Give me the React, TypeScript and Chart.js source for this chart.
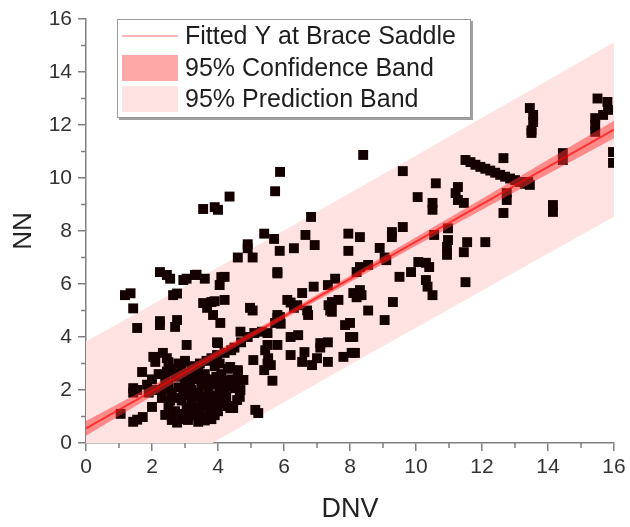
import React, { useEffect, useRef } from 'react';
import { Chart, registerables } from 'chart.js';

Chart.register(...registerables);

// ---- Data ----
const dnv = [
  1.05, 1.18, 1.35, 1.43, 1.55, 1.43, 1.55, 1.43, 1.55, 1.72, 1.7, 1.85, 2.0, 2.04, 2.1, 2.24, 2.45, 2.55, 2.24, 2.24,
  2.64, 2.76, 2.76, 2.7, 2.95, 3.05, 3.3, 3.6, 3.05, 2.45, 2.5, 3.67, 3.85, 4.07, 3.55, 4.1, 4.05, 4.2, 3.97, 4.0,
  3.97, 4.2, 3.9, 2.33, 1.43, 3.8, 3.35,
  3.55, 3.9, 4.0, 4.35, 5.88, 5.73, 6.82, 5.4, 5.7, 4.9, 4.9, 4.6, 5.05, 5.87, 6.3, 6.65, 6.93, 7.95, 7.95, 5.8, 6.9,
  2.4, 2.5, 2.6, 2.7, 2.8, 2.9, 3.0, 3.0, 3.1, 3.2, 3.2, 3.3, 3.3, 3.4, 3.4, 3.5, 3.5, 3.6, 3.6, 3.7, 3.7, 3.8, 3.8,
  3.9, 3.9, 4.0, 4.0, 4.1, 4.1, 4.2, 4.3, 4.3, 4.4, 2.6, 2.8, 3.0, 2.3, 2.5, 2.7, 2.9, 3.1, 3.4, 3.6, 2.2, 2.0, 1.9,
  2.6, 3.2, 3.8, 4.2, 4.4, 2.4, 2.6, 2.76, 3.09, 3.36, 3.55, 3.76, 3.9,
  2.45, 2.55, 2.75, 2.85, 2.95, 3.05, 3.15, 3.25, 3.35, 3.45, 3.55, 3.65, 3.75, 3.85, 3.95, 4.05, 4.15, 4.25, 4.35,
  2.35, 2.15, 3.45, 3.65, 4.05, 2.9, 3.0, 3.9, 4.1,
  4.37, 4.6, 4.66, 4.5, 4.66, 4.2, 4.37, 4.68, 4.58, 4.46, 4.77, 4.6, 4.68, 4.97, 5.05, 5.13, 5.22, 5.07, 5.43, 5.52,
  5.6, 5.65, 5.5, 5.5, 5.4, 4.9, 5.1, 5.33, 5.5, 5.73, 5.8, 5.88, 5.8, 5.9, 5.8, 4.5, 4.7,
  5.8, 6.1, 6.3, 6.55, 6.2, 6.4, 6.73, 6.7, 7.35, 7.45, 7.85, 8.0, 6.2, 6.43, 6.2, 6.62, 6.55, 6.85, 7.0, 7.1, 7.33,
  7.33, 7.8, 8.05, 7.1,
  7.33, 7.55, 8.1, 8.3, 8.35, 8.2, 7.45, 7.65, 7.4, 8.55, 8.15, 8.1, 8.0, 9.05, 9.3,
  8.3, 8.55, 9.1, 8.2, 9.5, 9.85, 10.07, 10.3, 10.4, 10.3, 10.35, 10.5, 11.5,
  8.4, 9.6, 10.6, 10.05, 10.5, 10.5, 11.27, 11.2, 11.27, 11.45,
  8.3, 9.27, 9.27, 9.6, 8.9, 9.05, 10.55, 10.97, 10.97, 10.94, 10.94, 11.55, 11.45, 12.1,
  11.5, 11.65, 11.8, 11.95, 12.1, 12.25, 12.4, 12.55, 12.7, 12.85, 13.0, 13.15, 13.3, 13.45, 13.4,
  12.65, 12.75, 12.75, 12.65, 14.15, 14.15, 14.45, 14.45,
  13.45, 13.55, 13.55, 13.5, 13.5,
  15.5, 15.8, 15.82, 15.67, 15.43, 15.43, 15.43, 15.97, 15.97,
];

const nn = [
  1.1, 5.58, 5.65, 5.08, 4.34, 2.07, 2.0, 0.8, 0.88, 0.98, 2.68, 2.2, 1.36, 3.25, 3.06, 6.45, 6.34, 6.2, 4.6, 4.45,
  5.58, 5.64, 4.64, 4.38, 6.15, 6.2, 6.34, 6.2, 3.7, 3.2, 3.05, 5.1, 4.83, 4.53, 5.28, 6.26, 5.96, 6.27, 3.8, 3.77,
  3.32, 5.4, 5.35, 3.4, 1.9, 5.32, 6.35,
  8.83, 8.9, 8.8, 9.3, 10.23, 9.5, 8.53, 7.9, 7.7, 7.5, 7.35, 7.0, 7.0, 7.25, 7.35, 7.85, 7.47, 7.9, 7.25, 6.45, 5.9,
  2.4, 2.2, 1.9, 2.5, 2.1, 1.6, 2.3, 1.8, 2.6, 2.0, 1.5, 2.4, 1.2, 2.8, 1.9, 2.2, 1.6, 2.6, 1.0, 2.0, 1.4, 2.4, 0.9,
  1.8, 2.9, 2.2, 1.2, 2.6, 1.6, 2.0, 2.8, 1.4, 2.4, 2.8, 3.0, 3.1, 1.7, 1.4, 1.2, 0.9, 1.0, 0.8, 0.85, 2.6, 2.4, 1.9,
  1.0, 2.9, 3.2, 3.4, 3.5, 1.06, 0.87, 0.77, 0.87, 1.06, 1.0, 1.13, 1.36,
  2.7, 1.6, 1.7, 2.6, 2.0, 1.35, 2.25, 1.75, 2.6, 1.35, 2.45, 1.75, 2.25, 1.55, 2.5, 1.9, 2.35, 1.75, 2.15,
  2.05, 2.0, 3.0, 3.1, 3.0, 2.8, 1.1, 1.05, 1.4,
  2.87, 2.68, 2.38, 2.07, 1.74, 1.43, 1.32, 2.0, 1.62, 1.32, 2.38, 2.75, 4.2, 5.1, 5.0, 1.25, 1.13, 3.13, 3.5, 3.2,
  2.94, 2.35, 3.7, 3.0, 2.75, 4.0, 4.15, 4.2, 4.15, 4.53, 4.72, 4.75, 4.83, 4.5, 3.7, 3.6, 3.8,
  6.4, 5.4, 5.1, 5.66, 5.3, 5.2, 4.83, 5.0, 5.2, 4.95, 4.45, 4.0, 4.0, 4.07, 3.32, 3.43, 3.06, 2.94, 3.2, 3.77, 3.8,
  3.06, 3.25, 3.4, 3.6,
  5.96, 6.2, 5.66, 5.77, 5.58, 5.5, 5.32, 5.4, 5.0, 5.0, 3.4, 4.0, 4.53, 4.64, 5.32,
  6.64, 6.72, 6.9, 6.45, 6.27, 6.45, 6.83, 6.8, 6.64, 6.15, 5.9, 5.58, 6.07,
  10.87, 10.26, 9.8, 9.28, 9.06, 8.8, 9.66, 9.43, 9.17, 9.06,
  7.77, 7.96, 7.77, 8.15, 7.36, 7.0, 7.85, 8.1, 7.66, 7.4, 7.1, 7.58, 7.2, 7.58,
  10.68, 10.6, 10.5, 10.42, 10.35, 10.28, 10.2, 10.12, 10.05, 9.98, 9.92, 9.85, 9.78, 9.74, 9.85,
  10.75, 9.43, 9.17, 8.68, 8.98, 8.72, 10.94, 10.68,
  12.64, 12.38, 12.11, 11.8, 11.7,
  13.0, 12.87, 12.57, 12.38, 12.26, 12.0, 11.74, 10.98, 10.57,
];

const bandX = [0, 2, 4, 6, 8, 10, 12, 14, 16];
const fitY = [0.55, 1.96, 3.37, 4.78, 6.19, 7.6, 9.01, 10.42, 11.83];
const confUpper = [0.83, 2.16, 3.5, 4.88, 6.31, 7.76, 9.22, 10.69, 12.16];
const confLower = [0.27, 1.76, 3.24, 4.68, 6.07, 7.44, 8.8, 10.15, 11.5];
const predUpper = [3.83, 5.22, 6.62, 8.02, 9.43, 10.85, 12.27, 13.69, 15.12];
const predLower = [-2.73, -1.3, 0.12, 1.54, 2.95, 4.35, 5.75, 7.15, 8.54];

const minorTicks = [1, 3, 5, 7, 9, 11, 13, 15];
const legendLabels = ['Fitted Y at Brace Saddle', '95% Confidence Band', '95% Prediction Band'];

const FONT = "'Liberation Sans', Arial, sans-serif";
const AXIS = '#808080';
const PRED_FILL = '#FFE3E3';
const CONF_FILL = 'rgba(255, 50, 50, 0.5)';
const FIT_LINE = 'rgba(255, 0, 0, 0.65)';

const minorTickPlugin = {
  id: 'minorTicks',
  afterDraw(chart: any) {
    const { ctx, chartArea } = chart;
    const xs = chart.scales.x;
    const ys = chart.scales.y;
    ctx.save();
    ctx.strokeStyle = AXIS;
    ctx.lineWidth = 1.5;
    ctx.beginPath();
    minorTicks.forEach((v) => {
      const px = xs.getPixelForValue(v);
      ctx.moveTo(px, chartArea.bottom);
      ctx.lineTo(px, chartArea.bottom + 5);
      const py = ys.getPixelForValue(v);
      ctx.moveTo(chartArea.left, py);
      ctx.lineTo(chartArea.left - 5, py);
    });
    ctx.stroke();
    ctx.restore();
  },
};

const legendPlugin = {
  id: 'insideLegend',
  afterDraw(chart: any) {
    const { ctx, chartArea } = chart;
    const bx = chartArea.left + 31;
    const by = chartArea.top;
    const bw = 354;
    const bh = 99;
    ctx.save();
    ctx.fillStyle = '#a0a0a0';
    ctx.fillRect(bx + 2, by + 2, bw, bh);
    ctx.fillStyle = '#ffffff';
    ctx.fillRect(bx, by, bw, bh);
    ctx.strokeStyle = '#9a9a9a';
    ctx.lineWidth = 1;
    ctx.strokeRect(bx + 0.5, by + 0.5, bw - 1, bh - 1);

    const sx = bx + 5;
    const sw = 56;
    const rows = [by + 17, by + 49, by + 80];
    ctx.strokeStyle = '#FF9C9C';
    ctx.lineWidth = 1.5;
    ctx.beginPath();
    ctx.moveTo(sx, rows[0]);
    ctx.lineTo(sx + sw, rows[0]);
    ctx.stroke();
    ctx.fillStyle = '#FFA8A8';
    ctx.fillRect(sx, rows[1] - 13, sw, 26);
    ctx.fillStyle = PRED_FILL;
    ctx.fillRect(sx, rows[2] - 13, sw, 26);

    ctx.fillStyle = '#1e1e1e';
    ctx.font = `25px ${FONT}`;
    ctx.textBaseline = 'middle';
    ctx.textAlign = 'left';
    legendLabels.forEach((t, i) => {
      ctx.fillText(t, sx + sw + 7, rows[i] + 1);
    });
    ctx.restore();
  },
};

export default function App() {
  const ref = useRef<HTMLCanvasElement | null>(null);

  useEffect(() => {
    if (!ref.current) return;
    Chart.defaults.font.family = FONT;
    const pts = (ys: number[]) => bandX.map((x, i) => ({ x, y: ys[i] }));
    const scatter = dnv.map((x, i) => ({ x, y: nn[i] }));

    const axisCommon = {
      type: 'linear' as const,
      min: 0,
      max: 16,
      grid: {
        drawOnChartArea: false,
        drawTicks: true,
        tickLength: 8,
        color: AXIS,
        lineWidth: 1.5,
      },
      border: { color: AXIS, width: 1.5 },
    };

    const chart = new Chart(ref.current, {
      type: 'scatter',
      data: {
        datasets: [
          {
            type: 'line',
            label: 'fit',
            data: pts(fitY),
            borderColor: FIT_LINE,
            borderWidth: 2,
            pointRadius: 0,
            fill: false,
            order: 0,
          } as any,
          {
            type: 'line',
            label: 'confUpper',
            data: pts(confUpper),
            borderColor: 'transparent',
            borderWidth: 0,
            pointRadius: 0,
            backgroundColor: CONF_FILL,
            fill: '+1',
            order: 1,
          },
          {
            type: 'line',
            label: 'confLower',
            data: pts(confLower),
            borderColor: 'transparent',
            borderWidth: 0,
            pointRadius: 0,
            fill: false,
            order: 1,
          },
          {
            type: 'scatter',
            label: 'NN',
            data: scatter,
            pointStyle: 'rect',
            pointRadius: 7,
            backgroundColor: '#150000',
            borderWidth: 0,
            order: 2,
          },
          {
            type: 'line',
            label: 'predUpper',
            data: pts(predUpper),
            borderColor: 'transparent',
            borderWidth: 0,
            pointRadius: 0,
            backgroundColor: PRED_FILL,
            fill: '+1',
            order: 3,
          },
          {
            type: 'line',
            label: 'predLower',
            data: pts(predLower),
            borderColor: 'transparent',
            borderWidth: 0,
            pointRadius: 0,
            fill: false,
            order: 3,
          },
        ] as any,
      },
      options: {
        animation: false,
        responsive: true,
        maintainAspectRatio: false,
        layout: { padding: { top: 19, right: 16, left: 0, bottom: 0 } },
        plugins: {
          legend: { display: false },
          tooltip: { enabled: false },
        },
        scales: {
          x: {
            ...axisCommon,
            position: 'bottom',
            ticks: { stepSize: 2, color: '#333333', padding: 4, font: { size: 21 } },
            title: {
              display: true,
              text: 'DNV',
              color: '#222222',
              font: { size: 27 },
              padding: { top: 0, bottom: 1 },
            },
            afterFit: (s: any) => {
              s.height = 84;
            },
          },
          y: {
            ...axisCommon,
            position: 'left',
            ticks: { stepSize: 2, color: '#333333', padding: 6, font: { size: 21 } },
            title: {
              display: true,
              text: 'NN',
              color: '#222222',
              font: { size: 26 },
              padding: { top: 8, bottom: 0 },
            },
            afterFit: (s: any) => {
              s.width = 86;
            },
          },
        },
      } as any,
      plugins: [minorTickPlugin, legendPlugin],
    });
    return () => chart.destroy();
  }, []);

  return (
    <div style={{ position: 'absolute', left: 0, top: 0, width: 630, height: 527, background: '#ffffff' }}>
      <canvas ref={ref} />
    </div>
  );
}
